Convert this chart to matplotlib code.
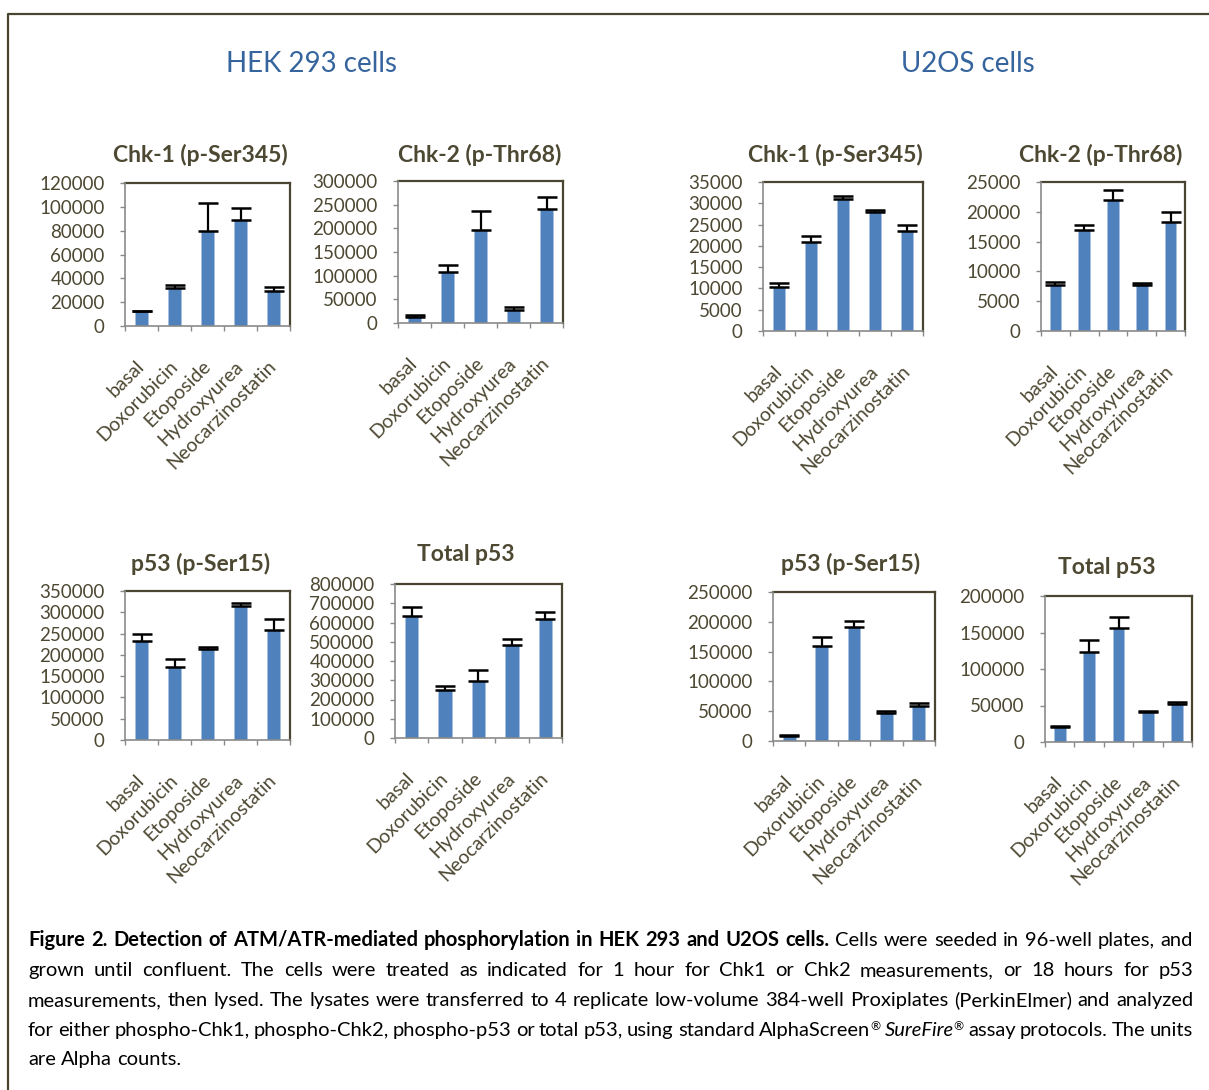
import matplotlib
matplotlib.use("Agg")
import matplotlib.pyplot as plt
import matplotlib.transforms as mtransforms
import numpy as np
from matplotlib.lines import Line2D

# ---------------- data ----------------
categories = ["basal", "Doxorubicin", "Etoposide", "Hydroxyurea", "Neocarzinostatin"]

hek_chk1_mean = [12200, 31900, 79600, 89200, 29500]
hek_chk1_err = [800, 2900, 23200, 9700, 3100]
hek_chk2_mean = [13400, 107500, 196800, 28100, 241700]
hek_chk2_err = [2800, 15500, 40000, 4900, 24600]
u2os_chk1_mean = [10300, 20800, 31100, 27900, 23600]
u2os_chk1_err = [900, 1600, 500, 600, 1400]
u2os_chk2_mean = [7750, 16900, 21900, 7700, 18260]
u2os_chk2_err = [550, 850, 1700, 280, 1680]
hek_p53s15_mean = [232900, 171500, 214000, 313900, 257300]
hek_p53s15_err = [15700, 19700, 4000, 8700, 25900]
hek_totp53_mean = [632000, 247600, 297800, 483100, 618200]
hek_totp53_err = [46800, 22400, 57200, 29500, 38100]
u2os_p53s15_mean = [9000, 158900, 191200, 46400, 58300]
u2os_p53s15_err = [1700, 16400, 9600, 3900, 6200]
u2os_totp53_mean = [20100, 123600, 156100, 41600, 52200]
u2os_totp53_err = [1400, 16400, 15100, 1000, 2300]

panel_titles = ["Chk-1 (p-Ser345)", "Chk-2 (p-Thr68)", "Chk-1 (p-Ser345)", "Chk-2 (p-Thr68)",
                "p53 (p-Ser15)", "Total p53", "p53 (p-Ser15)", "Total p53"]
y_max = [120000, 300000, 35000, 25000, 350000, 800000, 250000, 200000]
y_step = [20000, 50000, 5000, 5000, 50000, 100000, 50000, 50000]
group_titles = ["HEK 293 cells", "U2OS cells"]

caption_bold = "Figure 2. Detection of ATM/ATR-mediated phosphorylation in HEK 293 and U2OS cells."
caption_lines = [
    "Cells were seeded in 96-well plates, and",
    "grown until confluent. The cells were treated as indicated for 1 hour for Chk1 or Chk2 measurements, or 18 hours for p53",
    "measurements, then lysed. The lysates were transferred to 4 replicate low-volume 384-well Proxiplates (PerkinElmer) and analyzed",
    "for either phospho-Chk1, phospho-Chk2, phospho-p53 or total p53, using standard AlphaScreen\u00ae SureFire\u00ae assay protocols. The units",
    "are Alpha counts.",
]

# ---------------- style ----------------
W, H = 1209, 1090
FONT = "Lato"
plt.rcParams["font.family"] = [FONT, "DejaVu Sans"]
TXT = "#4d4832"
FRAME = "#4a4530"
AXIS = "#8a8a8a"
BAR = "#4f81bd"
BLUE = "#36659e"

fig = plt.figure(figsize=(W / 100, H / 100), dpi=100)
fig.patch.set_facecolor("white")

def px_axes(x0, y0, x1, y1):
    return fig.add_axes([x0 / W, 1 - y1 / H, (x1 - x0) / W, (y1 - y0) / H])

# layout boxes (pixels): x0, ytop, x1, ybottom ; title centre
boxes = [
    (125, 183, 290, 326, 200, 155),
    (398, 181, 563, 323, 480, 155),
    (763, 182, 923, 331, 835, 155),
    (1041, 182, 1185, 331, 1101, 155),
    (125, 591, 290, 740, 201, 564),
    (395, 584, 562, 738, 466, 555),
    (773, 592, 935, 741, 851, 564),
    (1045, 596, 1192, 742, 1107, 568),
]
means = [hek_chk1_mean, hek_chk2_mean, u2os_chk1_mean, u2os_chk2_mean,
         hek_p53s15_mean, hek_totp53_mean, u2os_p53s15_mean, u2os_totp53_mean]
errs = [hek_chk1_err, hek_chk2_err, u2os_chk1_err, u2os_chk2_err,
        hek_p53s15_err, hek_totp53_err, u2os_p53s15_err, u2os_totp53_err]

label_shift = mtransforms.ScaledTranslation(4 / 100, 0, fig.dpi_scale_trans)

for i, (x0, y0, x1, y1, tx, ty) in enumerate(boxes):
    ax = px_axes(x0, y0, x1, y1)
    xs = np.arange(len(categories))
    ax.bar(xs, means[i], width=0.4, color=BAR, edgecolor="#a9c1e0", linewidth=0.6, zorder=2)
    ax.errorbar(xs, means[i], yerr=[np.zeros(len(xs)), errs[i]], fmt="none",
                ecolor="black", elinewidth=1.6, capsize=7, capthick=1.8, zorder=3)
    ax.set_xlim(-0.5, len(categories) - 0.5)
    ax.set_ylim(0, y_max[i])
    ticks = np.arange(0, y_max[i] + 1, y_step[i])
    ax.set_yticks(ticks)
    ax.set_yticklabels([str(int(v)) for v in ticks])
    ax.set_xticks(xs)
    ax.set_xticklabels(categories, rotation=45, ha="right", va="center",
                       rotation_mode="anchor")
    for lab in ax.get_xticklabels():
        lab.set_transform(lab.get_transform() + label_shift)
    ax.set_xticks(np.arange(-0.5, len(categories)), minor=True)
    ax.tick_params(axis="x", which="major", length=0, pad=27, labelsize=14, labelcolor=TXT)
    ax.tick_params(axis="x", which="minor", length=3.6, width=1, color=AXIS, direction="out")
    ax.tick_params(axis="y", length=3.6, width=1, color=AXIS, direction="out",
                   labelsize=13.5, labelcolor=TXT, pad=11)
    for s in ["left", "bottom"]:
        ax.spines[s].set_color(AXIS)
        ax.spines[s].set_linewidth(1.2)
    for s in ["top", "right"]:
        ax.spines[s].set_color(FRAME)
        ax.spines[s].set_linewidth(1.6)
    ax.spines["left"].set_zorder(4)
    ax.spines["bottom"].set_zorder(4)
    ax.set_facecolor("white")
    fig.text(tx / W, 1 - ty / H, panel_titles[i], ha="center", va="center",
             fontsize=16.5, fontweight="bold", color=TXT)

fig.text(311 / W, 1 - 64 / H, group_titles[0], ha="center", va="center", fontsize=20, color=BLUE)
fig.text(968 / W, 1 - 64 / H, group_titles[1], ha="center", va="center", fontsize=20, color=BLUE)

# outer frame (left and top edges visible)
fig.add_artist(Line2D([8 / W, 8 / W, 1.0], [0.0, 1 - 14 / H, 1 - 14 / H],
                      transform=fig.transFigure, color=FRAME, lw=1.6))

# ---------------- caption, justified ----------------
renderer = fig.canvas.get_renderer()
X_LEFT, X_RIGHT = 28, 1193

def seg_width(text, size, weight="normal", style="normal"):
    t = fig.text(0, 0, text, fontsize=size, fontweight=weight, fontstyle=style)
    w = t.get_window_extent(renderer).width
    t.remove()
    return w

# choose caption size so the densest line nearly fills the text block
probe = seg_width(caption_lines[2], 10)
CAP_FS = 10 * (X_RIGHT - X_LEFT - 8) / probe

def make_words(text, weight="normal"):
    words = []
    for w in text.split(" "):
        segs = []
        if "\u00ae" in w:
            base, rest = w.split("\u00ae", 1)
            style = "italic" if base == "SureFire" else "normal"
            segs.append(dict(text=base, weight=weight, style=style, size=CAP_FS, dy=0))
            segs.append(dict(text="\u00ae", weight=weight, style="normal", size=CAP_FS * 0.6, dy=6))
            if rest:
                segs.append(dict(text=rest, weight=weight, style="normal", size=CAP_FS, dy=0))
        else:
            segs.append(dict(text=w, weight=weight, style="normal", size=CAP_FS, dy=0))
        words.append(segs)
    return words

line_words = [make_words(caption_bold, "bold") + make_words(caption_lines[0])]
for ln in caption_lines[1:]:
    line_words.append(make_words(ln))

baselines = [946, 976, 1006, 1036, 1065]
space_w = seg_width("a a", CAP_FS) - seg_width("aa", CAP_FS)

for li, words in enumerate(line_words):
    widths = []
    for wd in words:
        widths.append(sum(seg_width(s["text"], s["size"], s["weight"], s["style"]) for s in wd))
    total = sum(widths)
    ngap = len(words) - 1
    if li < len(line_words) - 1 and ngap > 0:
        gap = (X_RIGHT - X_LEFT - total) / ngap
    else:
        gap = space_w
    x = X_LEFT
    for wd, wdw in zip(words, widths):
        xx = x
        for s in wd:
            fig.text(xx / W, 1 - (baselines[li] - s["dy"]) / H, s["text"], ha="left", va="baseline",
                     fontsize=s["size"], fontweight=s["weight"], fontstyle=s["style"], color="black")
            xx += seg_width(s["text"], s["size"], s["weight"], s["style"])
        x += wdw + gap

fig.savefig("out.png", dpi=100, facecolor="white")
